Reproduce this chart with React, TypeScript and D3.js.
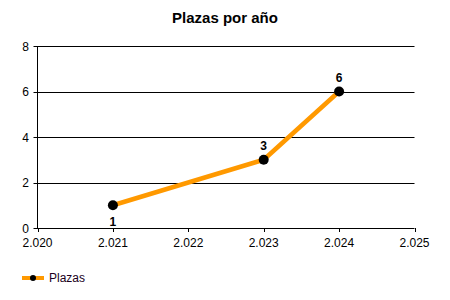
import React from "react";
import * as d3 from "d3";

const years = [2021, 2023, 2024];
const plazas = [1, 3, 6];
const xTicks = [2020, 2021, 2022, 2023, 2024, 2025];
const yTicks = [0, 2, 4, 6, 8];
const labelBelow = [true, false, false];

const W = 450, H = 300;
const left = 37.5, right = 414.5, top = 46, bottom = 228;
const font = "'Liberation Sans', Arial, sans-serif";
const orange = "#FF9900";

export default function App() {
  const x = d3.scaleLinear().domain([2020, 2025]).range([left, right]);
  const y = d3.scaleLinear().domain([0, 8]).range([bottom, top]);
  const pts = years.map((yr, i) => [x(yr), y(plazas[i])] as [number, number]);
  const line = d3.line()(pts) || "";
  const fmt = (v: number) => (v / 1000).toFixed(3);
  return (
    <svg width={W} height={H} style={{ position: "absolute", left: 0, top: 0, background: "#fff" }}>
      <text x={225} y={23} textAnchor="middle" fontFamily={font} fontWeight="bold" fontSize={15}>Plazas por año</text>
      {yTicks.map(t => (
        <g key={t}>
          <line x1={left - 4} x2={right} y1={Math.round(y(t)) + 0.5} y2={Math.round(y(t)) + 0.5} stroke="#000" strokeWidth={1} />
          <text x={29} y={y(t) + 4.5} textAnchor="end" fontFamily={font} fontSize={12}>{t}</text>
        </g>
      ))}
      <line x1={left} x2={left} y1={top} y2={bottom + 0.5} stroke="#000" strokeWidth={1} />
      {xTicks.map(t => (
        <g key={t}>
          <line x1={Math.round(x(t)) + 0.5} x2={Math.round(x(t)) + 0.5} y1={bottom} y2={bottom + 4} stroke="#000" strokeWidth={1} />
          <text x={x(t)} y={bottom + 18.5} textAnchor="middle" fontFamily={font} fontSize={12}>{fmt(t)}</text>
        </g>
      ))}
      <path d={line} fill="none" stroke={orange} strokeWidth={4.5} strokeLinejoin="round" />
      {pts.map((p, i) => (
        <g key={i}>
          <circle cx={p[0]} cy={p[1]} r={5} fill="#000" />
          <text x={p[0]} y={labelBelow[i] ? p[1] + 21 : p[1] - 10} textAnchor="middle" fontFamily={font} fontWeight="bold" fontSize={12}>{plazas[i]}</text>
        </g>
      ))}
      <line x1={22} x2={44} y1={278} y2={278} stroke={orange} strokeWidth={4} />
      <circle cx={33} cy={278} r={3} fill="#000" />
      <text x={49} y={282} fontFamily={font} fontSize={12} fill="#200020">Plazas</text>
    </svg>
  );
}
